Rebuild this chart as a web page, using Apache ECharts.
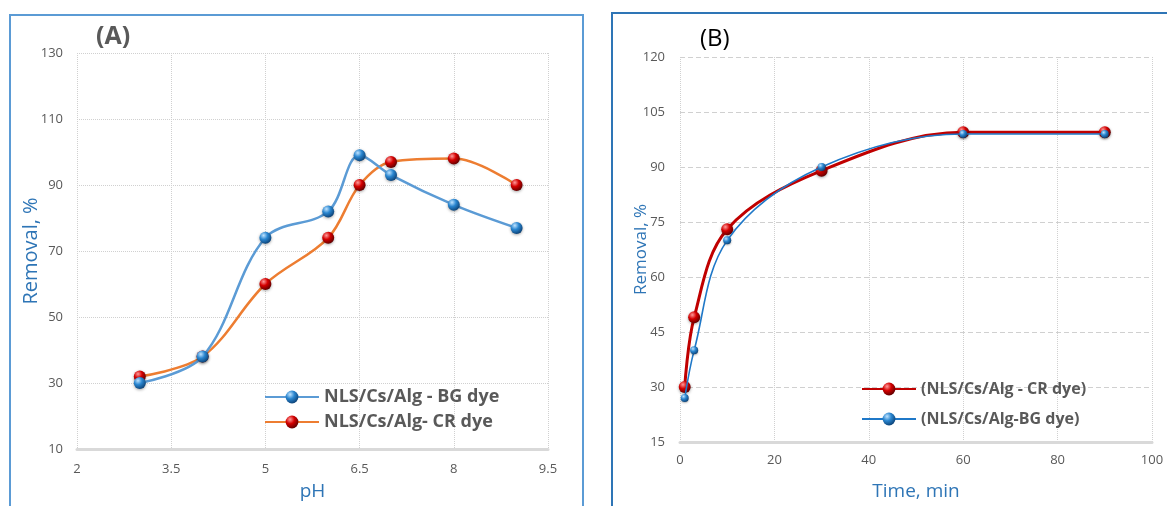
<!DOCTYPE html>
<html>
<head>
<meta charset="utf-8">
<script src="https://cdn.jsdelivr.net/npm/echarts@6/dist/echarts.min.js"></script>
<style>
html,body{margin:0;padding:0;background:#fff;}
#c{width:1167px;height:506px;}
</style>
</head>
<body>
<div id="c"></div>
<script>
// Panel A: removal vs pH
const phValues = [3, 4, 5, 6, 6.5, 7, 8, 9];
const bgRemovalPH = [30, 38, 74, 82, 99, 93, 84, 77];
const crRemovalPH = [32, 38, 60, 74, 90, 97, 98, 90];
const phTicks = [2, 3.5, 5, 6.5, 8, 9.5];
const removalTicksA = [10, 30, 50, 70, 90, 110, 130];

// Panel B: removal vs time
const timeValues = [1, 3, 10, 30, 60, 90];
const crRemovalTime = [30, 49, 73, 89, 99.5, 99.5];
const bgRemovalTime = [27, 40, 70, 90, 99, 99];
const timeTicks = [0, 20, 40, 60, 80, 100];
const removalTicksB = [15, 30, 45, 60, 75, 90, 105, 120];

const seriesNamesA = ['NLS/Cs/Alg - BG dye', 'NLS/Cs/Alg- CR dye'];
const seriesNamesB = ['(NLS/Cs/Alg - CR dye)', '(NLS/Cs/Alg-BG dye)'];

function pairs(xs, ys) { return xs.map((x, i) => [x, ys[i]]); }
function sphere(light, mid, dark) {
  return {
    type: 'radial', x: 0.35, y: 0.3, r: 0.75,
    colorStops: [{offset: 0, color: light}, {offset: 0.45, color: mid}, {offset: 1, color: dark}]
  };
}
const blueSphere = sphere('#bfe3ff', '#2a86d0', '#0b3f73');
const redSphere = sphere('#ff9a9a', '#d40000', '#5a0000');

const FONT = '"Open Sans", "Liberation Sans", sans-serif';
const LABEL = {color: '#595959', fontSize: 13, fontFamily: FONT};
const BLUE = '#2E75B6';

const chart = echarts.init(document.getElementById('c'), null, {renderer: 'canvas'});

function valueAxis(gridIndex, ticks, extra) {
  return Object.assign({
    type: 'value', gridIndex,
    min: ticks[0], max: ticks[ticks.length - 1],
    interval: ticks[1] - ticks[0],
    nameMoveOverlap: false,
    axisLabel: Object.assign({customValues: ticks}, LABEL),
    axisTick: {show: false, customValues: ticks},
    axisLine: {show: false},
    splitLine: {show: true, lineStyle: {color: '#d0d0d0', type: 'dotted', width: 1}}
  }, extra);
}

chart.setOption({
  animation: false,
  backgroundColor: '#fff',
  graphic: [
    {type: 'rect', shape: {x: 10, y: 15, width: 573, height: 520}, style: {fill: 'none', stroke: '#5B9BD5', lineWidth: 2}, silent: true},
    {type: 'rect', shape: {x: 612, y: 13, width: 600, height: 520}, style: {fill: 'none', stroke: '#2E75B6', lineWidth: 2}, silent: true},
    {type: 'text', left: 96, top: 24, style: {text: '(A)', fill: '#595959', font: 'bold 25px ' + FONT}, z: 10},
    {type: 'text', left: 700, top: 27, style: {text: '(B)', fill: '#000', font: '24px ' + FONT}, z: 10}
  ],
  grid: [
    {left: 77, right: 619, top: 53, bottom: 53},
    {left: 680, right: 15, top: 57, bottom: 58}
  ],
  xAxis: [
    valueAxis(0, phTicks, {
      name: 'pH', nameLocation: 'middle', nameGap: 33,
      nameTextStyle: {color: BLUE, fontSize: 19, fontFamily: FONT},
      axisLabel: Object.assign({customValues: phTicks, margin: 14}, LABEL),
      axisLine: {show: true, lineStyle: {color: '#d9d9d9', width: 3}}
    }),
    valueAxis(1, timeTicks, {
      name: 'Time, min', nameLocation: 'middle', nameGap: 40,
      nameTextStyle: {color: BLUE, fontSize: 19, fontFamily: FONT},
      axisLabel: Object.assign({customValues: timeTicks, margin: 12}, LABEL),
      axisLine: {show: true, lineStyle: {color: '#d9d9d9', width: 3}}
    })
  ],
  yAxis: [
    valueAxis(0, removalTicksA, {
      name: 'Removal, %', nameLocation: 'middle', nameGap: 36,
      nameTextStyle: {color: BLUE, fontSize: 20, fontFamily: FONT},
      axisLabel: Object.assign({customValues: removalTicksA, margin: 14}, LABEL)
    }),
    valueAxis(1, removalTicksB, {
      name: 'Removal, %', nameLocation: 'middle', nameGap: 30,
      nameTextStyle: {color: BLUE, fontSize: 17, fontFamily: FONT},
      axisLabel: Object.assign({customValues: removalTicksB, margin: 15}, LABEL),
      splitLine: {show: true, lineStyle: {color: '#d0d0d0', type: [5, 3], width: 1.2}}
    })
  ],
  legend: [
    {
      data: seriesNamesA, orient: 'vertical', left: 264, top: 388, itemGap: 7, padding: 0,
      itemWidth: 54, itemHeight: 16,
      textStyle: {color: '#595959', fontSize: 18, fontWeight: 'bold', fontFamily: FONT}
    },
    {
      data: seriesNamesB, orient: 'vertical', left: 861, top: 381, itemGap: 14, padding: 0,
      itemWidth: 54, itemHeight: 16,
      textStyle: {color: '#595959', fontSize: 16, fontWeight: 'bold', fontFamily: FONT}
    }
  ],
  series: [
    {
      name: seriesNamesA[0], type: 'line', xAxisIndex: 0, yAxisIndex: 0,
      data: pairs(phValues, bgRemovalPH), smooth: 0.35,
      symbol: 'circle', symbolSize: 12,
      lineStyle: {color: '#5B9BD5', width: 2.5},
      itemStyle: {color: blueSphere, borderWidth: 0, shadowBlur: 3, shadowColor: 'rgba(0,0,0,0.35)', shadowOffsetY: 1},
      z: 3
    },
    {
      name: seriesNamesA[1], type: 'line', xAxisIndex: 0, yAxisIndex: 0,
      data: pairs(phValues, crRemovalPH), smooth: 0.35,
      symbol: 'circle', symbolSize: 12,
      lineStyle: {color: '#ED7D31', width: 2.5},
      itemStyle: {color: redSphere, borderWidth: 0, shadowBlur: 3, shadowColor: 'rgba(0,0,0,0.35)', shadowOffsetY: 1},
      z: 2
    },
    {
      name: seriesNamesB[0], type: 'line', xAxisIndex: 1, yAxisIndex: 1,
      data: pairs(timeValues, crRemovalTime), smooth: 0.35,
      symbol: 'circle', symbolSize: 12,
      lineStyle: {color: '#C00000', width: 3},
      itemStyle: {color: redSphere, borderWidth: 0, shadowBlur: 3, shadowColor: 'rgba(0,0,0,0.35)', shadowOffsetY: 1},
      z: 2
    },
    {
      name: seriesNamesB[1], type: 'line', xAxisIndex: 1, yAxisIndex: 1,
      data: pairs(timeValues, bgRemovalTime), smooth: 0.35,
      symbol: 'circle', symbolSize: 8,
      lineStyle: {color: '#1F78C8', width: 1.6},
      itemStyle: {color: blueSphere, borderWidth: 0, shadowBlur: 2, shadowColor: 'rgba(0,0,0,0.3)', shadowOffsetY: 1},
      z: 3
    }
  ]
});
</script>
</body>
</html>
